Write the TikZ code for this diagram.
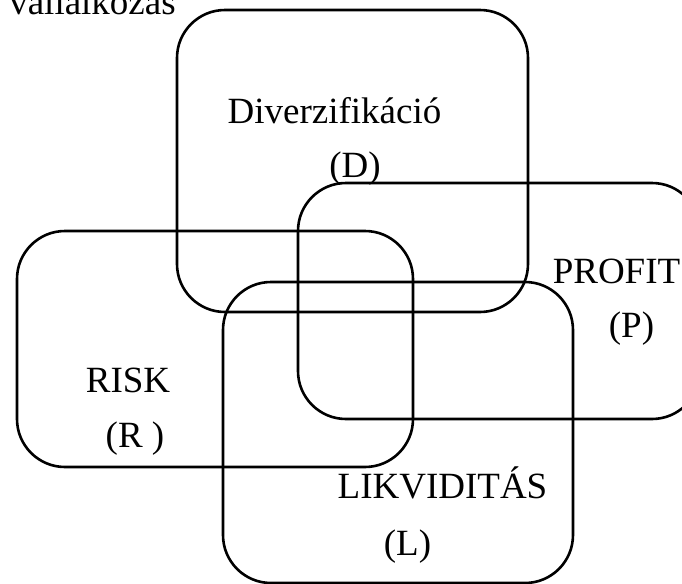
\documentclass[tikz,border=0pt]{standalone}
\usepackage{fontspec}
\setmainfont{Liberation Serif}
\usetikzlibrary{fit}
\tikzstyle{area} = [rectangle, rounded corners=24pt, draw=black, line width=1.3pt, inner sep=0pt]
\tikzstyle{areatext} = [anchor=base, inner sep=0pt, font=\fontsize{18.5}{22}\selectfont]

\begin{document}
\begin{tikzpicture}[x=0.5pt,y=-0.5pt]

\useasboundingbox (0,0) rectangle (682,584);
\clip (0,0) rectangle (682,584);

\node (firm) [areatext] at (92.5,14) {vállalkozás};

\node (div) [area, fit={(177,10)(528,312)}] {};
\node (prof) [area, fit={(298,183)(700,419)}] {};
\node (risk) [area, fit={(17,231)(413,467)}] {};
\node (liq) [area, fit={(223,282)(573,583)}] {};

\node (divname) [areatext] at (334.5,123) {Diverzifikáció};
\node (divsym) [areatext] at (355,177) {(D)};
\node (profname) [areatext] at (616.5,283) {PROFIT};
\node (profsym) [areatext] at (631.5,337) {(P)};
\node (riskname) [areatext] at (128,392) {RISK};
\node (risksym) [areatext] at (135,447) {(R )};
\node (liqname) [areatext] at (442.5,498) {LIKVIDITÁS};
\node (liqsym) [areatext] at (407.5,555) {(L)};

\end{tikzpicture}
\end{document}
